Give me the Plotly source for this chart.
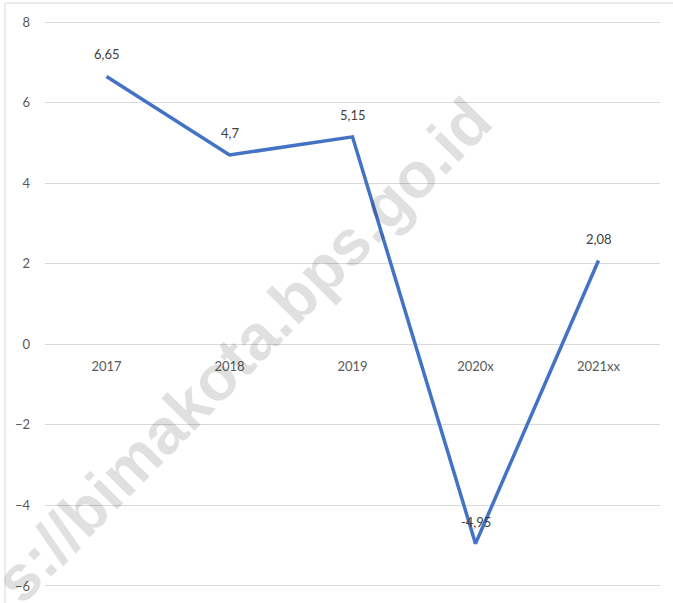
import plotly.graph_objects as go

# Annual growth figures (%)
years = ["2017", "2018", "2019", "2020x", "2021xx"]
growth = [6.65, 4.7, 5.15, -4.95, 2.08]
growth_labels = ["6,65", "4,7", "5,15", "-4,95", "2,08"]
y_ticks = [-6, -4, -2, 0, 2, 4, 6, 8]

W, H = 673, 603
L, R, T, B = 45, 13, 14, 9
Y_MIN, Y_MAX = -6.2, 8.2

fig = go.Figure()
fig.add_trace(go.Scatter(
    x=years, y=growth, mode="lines",
    line=dict(color="#4472C4", width=3.5),
    hoverinfo="skip", showlegend=False,
))

# value labels above each point (x given as category index)
for i, (v, lab) in enumerate(zip(growth, growth_labels)):
    fig.add_annotation(x=i, y=v, text=lab, showarrow=False, yshift=22,
                       xanchor="center", yanchor="middle",
                       font=dict(family="Lato, Liberation Sans, sans-serif", size=13, color="#404040"))

plot_w = W - L - R
plot_h = H - T - B


def px_to_paper(px, py):
    return (px - L) / plot_w, (H - B - py) / plot_h


# watermark
wx, wy = px_to_paper(243, 350)
fig.add_annotation(x=wx, y=wy, xref="paper", yref="paper", showarrow=False,
                   xanchor="center", yanchor="middle",
                   text="<b>s://bimakota.bps.go.id</b>", textangle=-45.5,
                   font=dict(family="Liberation Sans, Arial, sans-serif", size=64, color="rgba(0,0,0,0.12)"))

# outer chart frame (left and top edges visible)
fx0, fy1 = px_to_paper(5, 3)
fx1, fy0 = px_to_paper(W + 5, H + 5)
fig.add_shape(type="rect", xref="paper", yref="paper", x0=fx0, x1=fx1, y0=fy0, y1=fy1,
              line=dict(color="#d9d9d9", width=1), layer="below")

fig.update_layout(
    width=W, height=H,
    margin=dict(l=L, r=R, t=T, b=B),
    paper_bgcolor="white", plot_bgcolor="white",
    font=dict(family="Lato, Liberation Sans, sans-serif", size=13, color="#595959"),
    xaxis=dict(
        type="category", range=[-0.5, 4.5],
        showgrid=False, zeroline=False, showline=False, ticks="",
        anchor="free", position=(0 - Y_MIN) / (Y_MAX - Y_MIN),
        ticklabelstandoff=13,
        tickfont=dict(size=13, color="#595959"),
    ),
    yaxis=dict(
        range=[Y_MIN, Y_MAX], tickvals=y_ticks,
        showgrid=True, gridcolor="#d9d9d9", gridwidth=1,
        zeroline=True, zerolinecolor="#d9d9d9", zerolinewidth=1,
        showline=False, ticks="", ticklabelstandoff=14,
        tickfont=dict(size=13, color="#595959"),
    ),
)

fig.write_html("out.html")
